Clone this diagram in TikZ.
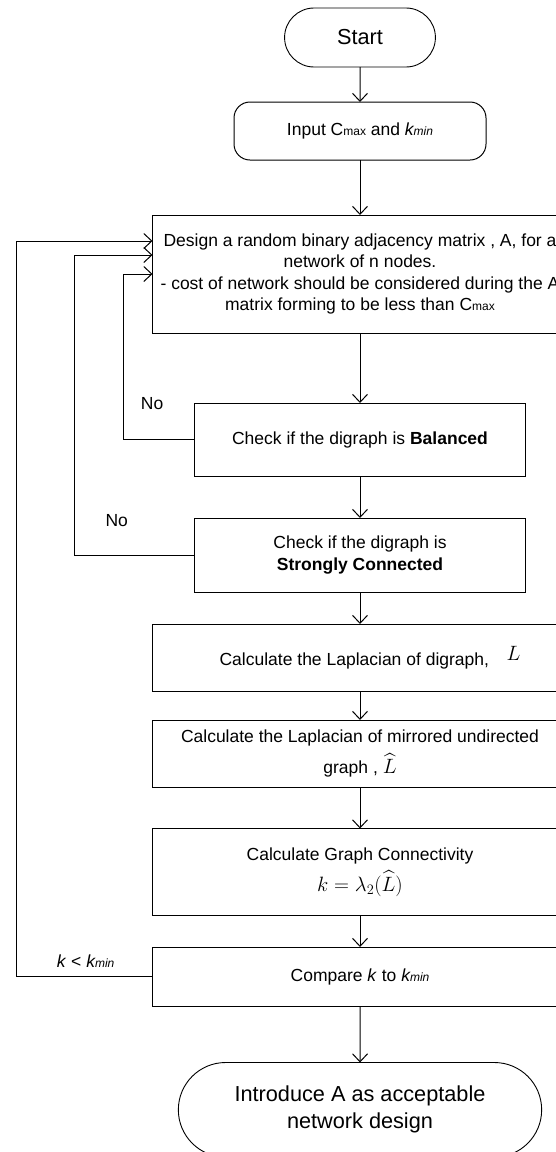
\documentclass[tikz,border=0pt]{standalone}
\usepackage{amsmath}
\usepackage{fontspec}
\setmainfont{Liberation Sans}
\usetikzlibrary{shapes.misc, positioning, arrows.meta}

% small upright/italic tails as in C_max and k_min
\newcommand{\tailtxt}[1]{{\fontsize{12}{12}\selectfont #1}}
\newcommand{\Cmax}{C\tailtxt{max}}
\newcommand{\kmin}{\textit{k\tailtxt{min}}}
% formulas are set a little larger than the box text
\newcommand{\bigmath}[1]{{\fontsize{20.5}{20.5}\selectfont$#1$}}

\tikzset{
  startstop/.style={rounded rectangle, draw=black, line width=0.9pt, align=center, font=\fontsize{21.7}{27}\selectfont},
  inputbox/.style={rectangle, rounded corners=16pt, draw=black, line width=1pt, minimum width=252pt, minimum height=58pt, text centered},
  process/.style={rectangle, draw=black, line width=1pt, minimum width=415pt, align=center},
  check/.style={rectangle, draw=black, line width=1pt, minimum width=330.5pt, minimum height=74pt, align=center},
  arrow/.style={line width=1pt, -{Straight Barb[length=8pt,width=15pt]}},
  looplabel/.style={inner sep=0pt}
}

\begin{document}
\begin{tikzpicture}[every node/.style={font=\fontsize{17.5}{21.5}\selectfont, outer sep=0pt}]
        \useasboundingbox (0,0) rectangle (556pt,-1152pt);
        \clip (0,0) rectangle (556pt,-1152pt);

        \node (start) [startstop, minimum width=157.5pt, minimum height=59pt] at (360pt,-37.5pt) {Start};
        \node (input) [inputbox, below=35pt of start] {Input \Cmax{} and \kmin};
        \node (design) [process, minimum height=118pt, below=55pt of input] {Design a random binary adjacency matrix , A, for a\\network of n nodes.\\- cost of network should be considered during the A\\matrix forming to be less than \Cmax};
        \node (bal) [check, minimum height=73pt, below=70pt of design] {Check if the digraph is \textbf{Balanced}};
        \node (strong) [check, below=42pt of bal] {Check if the digraph is\\\textbf{Strongly Connected}};
        \node (lap) [process, minimum height=67pt, below=32pt of strong] {\hspace*{20pt}Calculate the Laplacian of digraph,\quad\raisebox{5pt}{\bigmath{L}}};
        \node (mirror) [process, minimum height=67pt, below=29pt of lap] {Calculate the Laplacian of mirrored undirected\\[6pt]graph , \bigmath{\widehat{L}}};
        \node (conn) [process, minimum height=87pt, below=41.5pt of mirror] {Calculate Graph Connectivity\\[6pt]\bigmath{k=\lambda_2(\widehat{L})}};
        \node (cmp) [process, minimum height=59pt, below=31.5pt of conn] {Compare \textit{k} to \kmin};
        \node (stop) [startstop, minimum width=370pt, minimum height=94.6pt, below=56.5pt of cmp] {Introduce A as acceptable\\network design};

        \draw [arrow] (start) -- (input);
        \draw [arrow] (input) -- (design);
        \draw [arrow] (design) -- (bal);
        \draw [arrow] (bal) -- (strong);
        \draw [arrow] (strong) -- (lap);
        \draw [arrow] (lap) -- (mirror);
        \draw [arrow] (mirror) -- (conn);
        \draw [arrow] (conn) -- (cmp);
        \draw [arrow] (cmp) -- (stop);

        % the three ways back to the design step
        \draw [arrow] (bal.west) -- node[looplabel, pos=0.6, above=30pt] {No} ++(-71pt,0) |- (design.west);
        \draw [arrow] (strong.west) -- node[looplabel, pos=0.65, above=28pt] {No} ++(-120pt,0) |- ([yshift=19pt]design.west);
        \draw [arrow] (cmp.west) -- node[looplabel, pos=0.49, above=9pt] {\textit{k} < \kmin} ++(-136.5pt,0) |- ([yshift=33pt]design.west);
    \end{tikzpicture}
\end{document}
